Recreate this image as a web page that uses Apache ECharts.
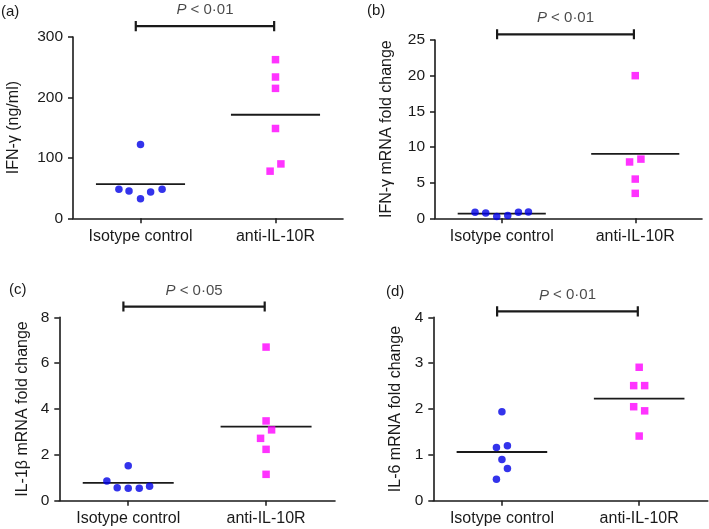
<!DOCTYPE html>
<html><head><meta charset="utf-8">
<script src="https://cdn.jsdelivr.net/npm/echarts@6/dist/echarts.min.js"></script>
<style>html,body{margin:0;padding:0;background:#fff}#c{width:709px;height:529px}</style>
</head><body><div id="c"></div>
<script>
// ---- data ----
const categories = ['Isotype control', 'anti-IL-10R'];
const categoryX = [1, 3];
const panelLetters = ['(a)', '(b)', '(c)', '(d)'];
const yTitles = ['IFN-γ (ng/ml)', 'IFN-γ mRNA fold change', 'IL-1β mRNA fold change', 'IL-6 mRNA fold change'];
const pValues = ['0·01', '0·01', '0·05', '0·01'];
const yMax = [300, 25, 8, 4];
const yInterval = [100, 5, 2, 1];
const bracketLevel = [318, 25.8, 8.47, 4.13];

const isoA = [48, 45.3, 32.5, 43.6, 48, 122];
const isoAJitter = [-0.32, -0.17, 0, 0.15, 0.32, 0];
const antiA = [262.5, 233.8, 215, 148.6, 90, 78];
const antiAJitter = [0, 0, 0, 0, 0.08, -0.08];

const isoB = [0.85, 0.75, 0.25, 0.4, 0.85, 0.9];
const isoBJitter = [-0.40, -0.24, -0.075, 0.09, 0.25, 0.40];
const antiB = [20, 8.3, 7.9, 5.5, 3.5];
const antiBJitter = [0, 0.085, -0.085, 0, 0];

const isoC = [0.86, 0.57, 1.52, 0.54, 0.54, 0.63];
const isoCJitter = [-0.31, -0.16, 0, 0, 0.16, 0.31];
const antiC = [6.7, 3.48, 3.09, 2.72, 2.24, 1.15];
const antiCJitter = [0, 0, 0.08, -0.08, 0, 0];

const isoD = [1.94, 1.16, 1.2, 0.9, 0.7, 0.47];
const isoDJitter = [0, -0.08, 0.08, 0, 0.08, -0.08];
const antiD = [2.91, 2.51, 2.51, 2.05, 1.96, 1.41];
const antiDJitter = [0, -0.08, 0.08, -0.08, 0.08, 0];

const iso = [isoA, isoB, isoC, isoD];
const isoJ = [isoAJitter, isoBJitter, isoCJitter, isoDJitter];
const anti = [antiA, antiB, antiC, antiD];
const antiJ = [antiAJitter, antiBJitter, antiCJitter, antiDJitter];

// ---- layout / style ----
const FONT = 'Liberation Sans, Arial, Helvetica, sans-serif';
const INK = '#1a1a1a';
const grids = [
  {left: 73, top: 37, width: 270, height: 181.3},
  {left: 435, top: 40, width: 267, height: 178.3},
  {left: 59.3, top: 317.3, width: 275.7, height: 183.4},
  {left: 433.3, top: 317.3, width: 274.5, height: 183.4}
];
const nameGaps = [51, 40, 28.5, 30];
const letterPos = [[1, 4], [367, 3], [9, 282.5], [386, 284]];
const meanHalf = 0.66;

const mean = a => a.reduce((s, v) => s + v, 0) / a.length;

const xAxes = [], yAxes = [], series = [], graphics = [];
for (let i = 0; i < 4; i++) {
  xAxes.push({
    gridIndex: i, type: 'value', min: 0, max: 4,
    axisLine: {show: true, onZero: false, lineStyle: {color: INK, width: 1.6}},
    splitLine: {show: false},
    axisTick: {show: true, length: 5, lineStyle: {color: INK, width: 1.5}, customValues: categoryX},
    axisLabel: {show: true, customValues: categoryX, margin: 10, fontSize: 16, fontFamily: FONT, color: INK,
      formatter: v => categories[categoryX.indexOf(v)] || ''}
  });
  yAxes.push({
    gridIndex: i, type: 'value', min: 0, max: yMax[i], interval: yInterval[i],
    name: yTitles[i], nameLocation: 'middle', nameGap: nameGaps[i],
    nameTextStyle: {fontSize: 16, fontFamily: FONT, color: INK},
    axisLine: {show: true, lineStyle: {color: INK, width: 1.6}},
    splitLine: {show: false},
    axisTick: {show: true, length: 5, lineStyle: {color: INK, width: 1.5}},
    axisLabel: {margin: 10, fontSize: 15.5, fontFamily: FONT, color: INK}
  });
  // points
  series.push({
    type: 'scatter', xAxisIndex: i, yAxisIndex: i, symbol: 'circle', symbolSize: 7.5,
    itemStyle: {color: '#0000e6'}, z: 5,
    data: iso[i].map((v, k) => [categoryX[0] + isoJ[i][k], v])
  });
  series.push({
    type: 'scatter', xAxisIndex: i, yAxisIndex: i, symbol: 'rect', symbolSize: 7.5,
    itemStyle: {color: '#ff00ff'}, z: 5,
    data: anti[i].map((v, k) => [categoryX[1] + antiJ[i][k], v])
  });
  // mean lines
  [iso[i], anti[i]].forEach((arr, g) => {
    const m = mean(arr);
    series.push({
      type: 'line', xAxisIndex: i, yAxisIndex: i, symbol: 'none', silent: true, z: 3,
      lineStyle: {color: INK, width: 1.8},
      data: [[categoryX[g] - meanHalf, m], [categoryX[g] + meanHalf, m]]
    });
  });
  // significance bracket
  const lv = bracketLevel[i], cap = yMax[i] * 0.0277;
  const x0 = categoryX[0] - 0.07, x1 = categoryX[1] - 0.02;
  series.push({
    type: 'line', xAxisIndex: i, yAxisIndex: i, symbol: 'none', silent: true, clip: false,
    lineStyle: {color: INK, width: 2.2},
    data: [[x0, lv - cap], [x0, lv + cap], [x0, lv], [x1, lv], [x1, lv + cap], [x1, lv - cap]]
  });
  series.push({
    type: 'scatter', xAxisIndex: i, yAxisIndex: i, symbolSize: 1, silent: true, clip: false,
    itemStyle: {color: 'rgba(0,0,0,0)'},
    label: {show: true, position: 'top', distance: 8,
      formatter: '{i|P}{n| < ' + pValues[i] + '}',
      rich: {
        i: {fontStyle: 'italic', fontSize: 15, fontFamily: FONT, color: INK},
        n: {fontSize: 15, fontFamily: FONT, color: INK}
      }},
    data: [[(x0 + x1) / 2, lv]]
  });
  graphics.push({
    type: 'text', left: letterPos[i][0], top: letterPos[i][1],
    style: {text: panelLetters[i], font: '15px ' + FONT, fill: INK}
  });
}

const chart = echarts.init(document.getElementById('c'), null, {renderer: 'canvas'});
chart.setOption({
  backgroundColor: '#ffffff',
  animation: false,
  grid: grids,
  xAxis: xAxes,
  yAxis: yAxes,
  series: series,
  graphic: graphics
});
</script>
</body></html>
